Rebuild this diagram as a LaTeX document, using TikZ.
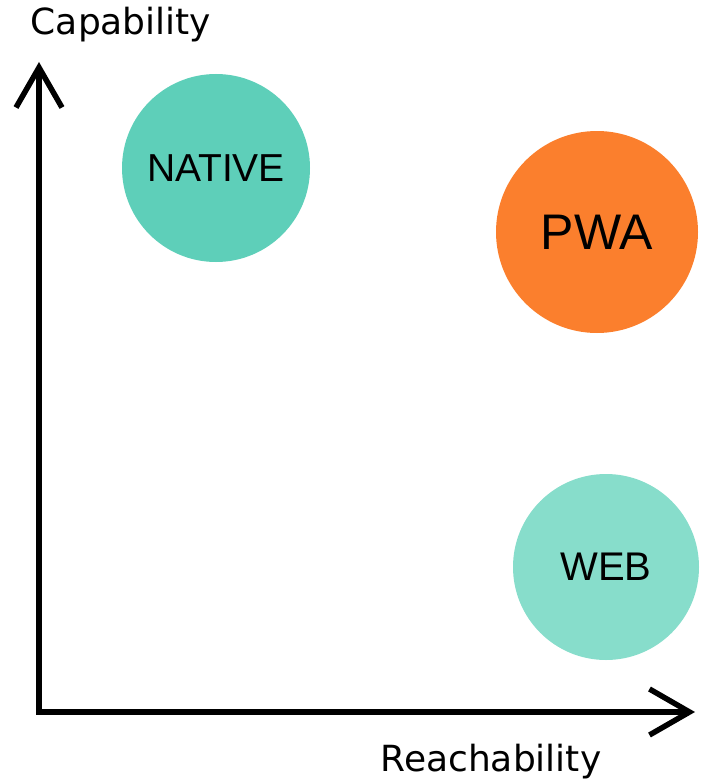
\documentclass[tikz,border=0pt]{standalone}
\usepackage{fontspec}
\setmainfont{Liberation Sans}
\newfontfamily\axisfont{DejaVu Sans}
\usetikzlibrary{arrows.meta}
\definecolor{nativecol}{HTML}{5ECFB9}
\definecolor{webcol}{HTML}{87DDCB}
\definecolor{pwacol}{HTML}{FB7F2D}
\tikzset{
  axis/.style={line width=6pt, line join=miter,
    {Straight Barb[length=40pt,width=46pt,line width=5.5pt]}-{Straight Barb[length=40pt,width=46pt,line width=5.5pt]}},
  bubble/.style={circle, inner sep=0pt},
  axislabel/.style={inner sep=0pt, font=\axisfont\fontsize{36}{42}\selectfont}
}
\begin{document}
\begin{tikzpicture}[x=1pt,y=-1pt]
      \useasboundingbox (0,0) rectangle (702,781);
      \coordinate (o) at (39,712);
      \coordinate (ytip) at (39,62);
      \coordinate (xtip) at (695,712);
      \node[axislabel] (cap) at (121,25) {Capability};
      \node[axislabel] (reach) at (491,762) {Reachability};
      \node[bubble, fill=nativecol, minimum size=188pt,
        font=\fontsize{39}{46}\selectfont] (native) at (216,168) {NATIVE};
      \node[bubble, fill=pwacol, minimum size=202pt,
        font=\fontsize{50}{58}\selectfont] (pwa) at (597,232) {PWA};
      \node[bubble, fill=webcol, minimum size=186pt,
        font=\fontsize{40}{48}\selectfont] (web) at (606,567) {WEB};
      \draw[axis] (ytip) -- (o) -- (xtip);
    \end{tikzpicture}
\end{document}
